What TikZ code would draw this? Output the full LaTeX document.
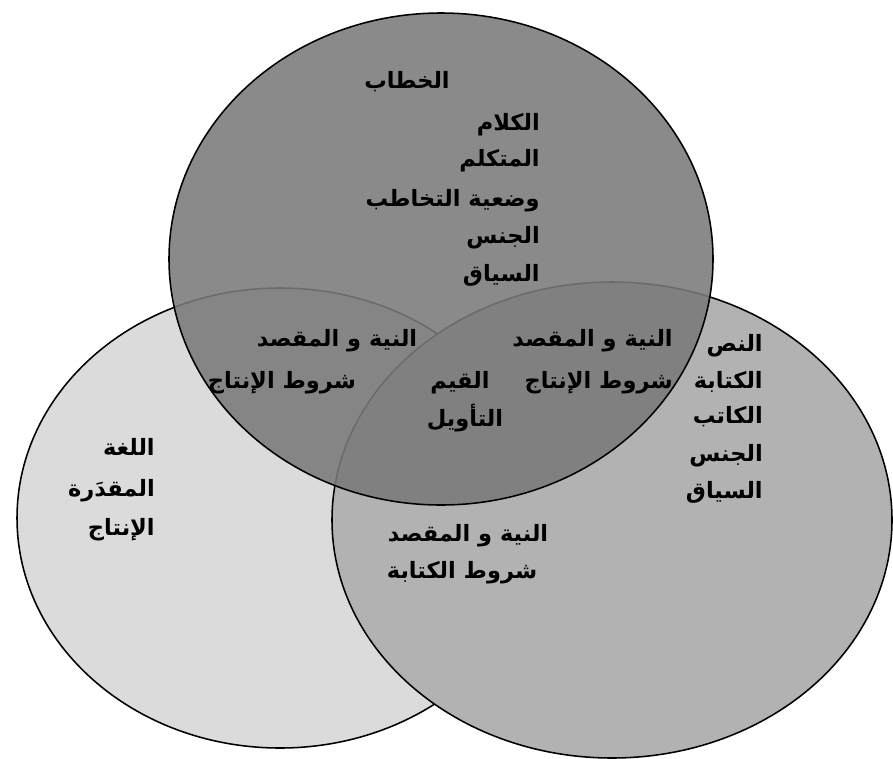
\documentclass[tikz,border=0pt]{standalone}
\usepackage{fontspec}
\newfontfamily\arabicfont[Script=Arabic]{DejaVu Sans}
\TeXXeTstate=1
\newcommand{\arword}[1]{\beginR #1\endR}

\begin{document}
\begin{tikzpicture}[x=0.025cm, y=-0.025cm,
  word/.style={font=\arabicfont\bfseries\fontsize{16}{18}\selectfont, inner sep=0pt}]
  \useasboundingbox (0,0) rectangle (893,758);

  % Circles (left, right, then the top one over both)
  \draw[line width=1.1pt, fill=black!14] (280,518) ellipse [x radius=263, y radius=230];
  \draw[line width=1.1pt, fill=black!30] (612,520) ellipse [x radius=280, y radius=238];
  \draw[line width=1.1pt, fill=black!52, fill opacity=0.88] (441,259) ellipse [x radius=272, y radius=246];

  % Top circle
  \node[word, anchor=base] (khitab) at (407,88) {\arword{الخطاب}};
  \foreach \y/\w [count=\i] in {122/الكلام, 158/المتكلم, 198/وضعية التخاطب, 235/الجنس, 273/السياق} {
    \node[word, anchor=base east] (top\i) at (540,\y+8) {\arword{\w}};
  }

  % Right circle
  \foreach \y/\w [count=\i] in {343/النص, 380/الكتابة, 415/الكاتب, 453/الجنس, 490/السياق} {
    \node[word, anchor=base east] (right\i) at (763,\y+8) {\arword{\w}};
  }

  % Left circle
  \foreach \y/\w [count=\i] in {447/اللغة, 488/المقدَرة, 527/الإنتاج} {
    \node[word, anchor=base east] (left\i) at (155,\y+8) {\arword{\w}};
  }

  % Overlaps with the top circle
  \node[word, anchor=base] (tlA) at (337,346) {\arword{النية و المقصد}};
  \node[word, anchor=base] (tlB) at (282,388) {\arword{شروط الإنتاج}};
  \node[word, anchor=base east] (trA) at (673,346) {\arword{النية و المقصد}};
  \node[word, anchor=base east] (trB) at (673,388) {\arword{شروط الإنتاج}};

  % Middle of all three
  \node[word, anchor=base] (midA) at (460,388) {\arword{القيم}};
  \node[word, anchor=base] (midB) at (465,426) {\arword{التأويل}};

  % Left and right overlap
  \node[word, anchor=base] (lrA) at (468,541) {\arword{النية و المقصد}};
  \node[word, anchor=base] (lrB) at (462,578) {\arword{شروط الكتابة}};
\end{tikzpicture}
\end{document}
